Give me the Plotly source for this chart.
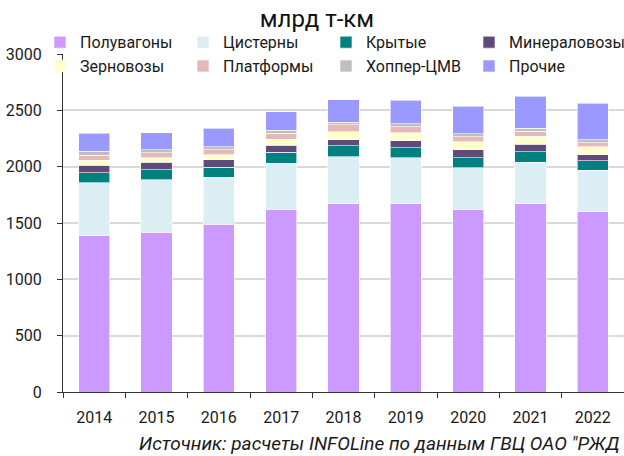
import plotly.graph_objects as go

years = ["2014", "2015", "2016", "2017", "2018", "2019", "2020", "2021", "2022"]
series_names = ["Полувагоны", "Цистерны", "Крытые", "Минераловозы",
                "Зерновозы", "Платформы", "Хоппер-ЦМВ", "Прочие"]
poluvagony   = [1390, 1420, 1488, 1624, 1669, 1669, 1624, 1669, 1598]
cisterny     = [468, 464, 420, 408, 417, 408, 367, 372, 372]
krytye       = [88, 89, 86, 98, 100, 91, 89, 92, 83]
mineralovozy = [66, 66, 68, 62, 54, 60, 68, 65, 53]
zernovozy    = [44, 41, 44, 53, 71, 71, 71, 71, 69]
platformy    = [44, 44, 45, 51, 59, 56, 47, 47, 38]
hopper       = [36, 27, 24, 29, 26, 26, 27, 27, 27]
prochie      = [160, 151, 168, 163, 196, 208, 243, 284, 322]
colors = ["#CC99FF", "#DAEEF3", "#008080", "#604A7B",
          "#FFFFCC", "#E6B9B8", "#BFBFBF", "#9999FF"]
source_text = "Источник: расчеты INFOLine по данным ГВЦ ОАО \"РЖД"

values = [poluvagony, cisterny, krytye, mineralovozy, zernovozy, platformy, hopper, prochie]

FONT = "Roboto, sans-serif"
legend_ids = ["legend", "legend2", "legend3", "legend4"]

fig = go.Figure()
for i, (name, vals, col) in enumerate(zip(series_names, values, colors)):
    fig.add_trace(go.Bar(
        x=years, y=vals, name=name, legend=legend_ids[i % 4],
        marker=dict(color=col, line=dict(color="rgba(255,255,255,0.6)", width=1)),
    ))

PLOT_L, PLOT_W = 63, 561
legend_lefts = [40, 183, 326, 469]
legends = {}
for lid, left in zip(legend_ids, legend_lefts):
    legends[lid] = dict(orientation="v", x=(left - PLOT_L) / PLOT_W, y=1.085,
                        xanchor="left", yanchor="top", bgcolor="rgba(0,0,0,0)",
                        font=dict(family=FONT, size=16), itemwidth=30,
                        traceorder="normal", tracegroupgap=0)

fig.update_layout(
    barmode="stack",
    bargap=0.5,
    width=624, height=456,
    margin=dict(l=PLOT_L, r=0, t=54, b=64, autoexpand=False),
    paper_bgcolor="white", plot_bgcolor="white",
    font=dict(family=FONT, size=16, color="#1a1a1a"),
    title=dict(text="млрд т-км", x=0.508, xanchor="center", xref="container",
               y=1 - 19 / 456, yref="container", yanchor="middle",
               font=dict(family=FONT, size=24, color="#111")),
    showlegend=True,
    **legends,
)
fig.update_yaxes(range=[0, 3000], dtick=500, showgrid=True, gridcolor="#d9d9d9",
                 gridwidth=2, showline=True, linecolor="#333", linewidth=1,
                 ticks="outside", ticklen=5, tickcolor="#333", zeroline=False,
                 ticklabelstandoff=12,
                 tickfont=dict(family=FONT, size=16))
fig.update_xaxes(showline=True, linecolor="#333", linewidth=1, ticks="outside",
                 tickson="boundaries", ticklen=5, tickcolor="#333",
                 ticklabelstandoff=11,
                 tickfont=dict(family=FONT, size=16))

fig.add_annotation(text=source_text,
                   xref="paper", yref="paper", x=(622 - PLOT_L) / PLOT_W, y=-(443 - 392) / 338,
                   xanchor="right", yanchor="middle", showarrow=False,
                   font=dict(family=FONT, size=19, color="#1a1a1a", style="italic"))

fig.write_html("out.html", config={"displayModeBar": False},
               post_script="document.body.style.margin='0';")
